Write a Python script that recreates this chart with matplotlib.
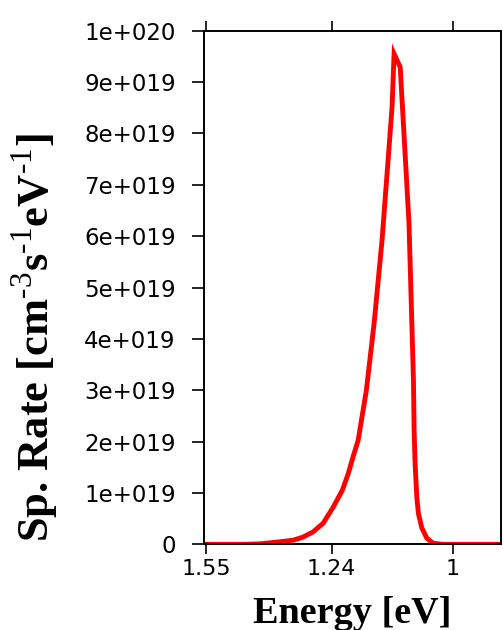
import matplotlib
matplotlib.use("Agg")
import matplotlib.pyplot as plt
from matplotlib.ticker import FixedLocator, FixedFormatter, NullLocator

plt.rcParams["mathtext.fontset"] = "custom"
plt.rcParams["mathtext.rm"] = "Liberation Serif"
plt.rcParams["mathtext.bf"] = "Liberation Serif:bold"

# spontaneous emission spectrum
energy = [1.56, 1.45, 1.408, 1.359, 1.328, 1.305, 1.282, 1.259, 1.237, 1.217,
          1.204, 1.194, 1.183, 1.166, 1.150, 1.134, 1.114, 1.110, 1.098,
          1.081, 1.0725, 1.0712, 1.0694, 1.0661, 1.0631, 1.0567, 1.0473,
          1.0356, 1.0175, 0.95, 0.91]
rate = [0.0, 0.0, 0.01e19, 0.05e19, 0.08e19, 0.14e19, 0.24e19, 0.41e19,
        0.72e19, 1.05e19, 1.38e19, 1.70e19, 2.03e19, 3.0e19, 4.31e19, 5.92e19,
        8.51e19, 9.55e19, 9.29e19, 6.25e19, 3.2e19, 2.22e19, 1.58e19, 0.92e19,
        0.60e19, 0.32e19, 0.12e19, 0.02e19, 0.0, 0.0, 0.0]

xticks = [1.55, 1.24, 1.0]
xticklabels = ["1.55", "1.24", "1"]
yticks = [i * 1e19 for i in range(11)]
yticklabels = ["0"] + ["%de+019" % i for i in range(1, 10)] + ["1e+020"]

fig = plt.figure(figsize=(5.03, 6.30), dpi=100)
ax = fig.add_axes([0.4046, 0.136, 0.5915, 0.8153])

ax.plot(energy, rate, color="#ff0000", lw=3.5, solid_joinstyle="miter")

ax.set_xscale("log")
ax.set_xlim(1.557, 0.918)
ax.set_ylim(0, 1e20)

ax.xaxis.set_major_locator(FixedLocator(xticks))
ax.xaxis.set_major_formatter(FixedFormatter(xticklabels))
ax.xaxis.set_minor_locator(NullLocator())
ax.yaxis.set_major_locator(FixedLocator(yticks))
ax.yaxis.set_major_formatter(FixedFormatter(yticklabels))

for s in ax.spines.values():
    s.set_linewidth(1.4)

ax.tick_params(axis="x", which="both", direction="out", length=7.5, width=1.2,
               top=True, labeltop=False, labelsize=16, pad=3)
ax.tick_params(axis="y", direction="out", length=9, width=1.2,
               labelsize=16.5, pad=11)

ax.set_xlabel("Energy [eV]", fontfamily="Liberation Serif", fontweight="bold",
              fontsize=27.5, labelpad=12)
ax.set_ylabel(r"Sp. Rate [cm$^{\text{-}3}$s$^{\text{-}1}$eV$^{\text{-}1}$]",
              fontfamily="Liberation Serif", fontweight="bold", fontsize=32)
ax.yaxis.set_label_coords(-0.479, 0.402)

fig.savefig("out.png", dpi=100)
